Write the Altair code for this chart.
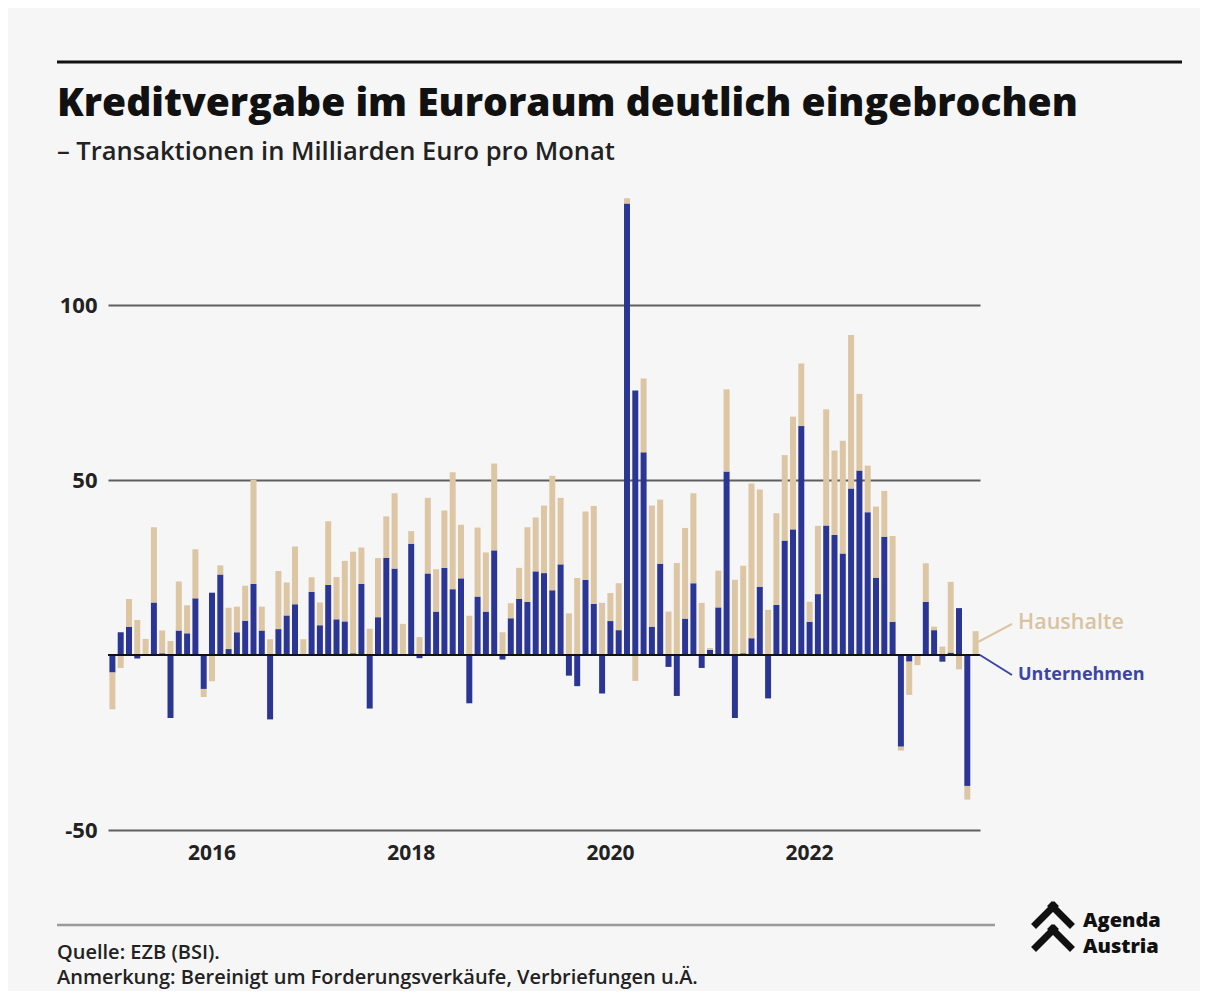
import altair as alt
import pandas as pd

# Monthly transactions, billion EUR, Jan 2015 - Sep 2023
months = [f"{y}-{m:02d}" for y in range(2015, 2024) for m in range(1, 13)][:105]

unternehmen = [
    -5, 6.5, 8, -1, 0.3, 15, 0.5, -18, 7, 6.2, 16.2, -9.7,
    17.8, 23, 1.7, 6.5, 9.8, 20.3, 7, -18.4, 7.4, 11.3, 14.5, 0.3,
    18, 8.5, 20, 10.2, 9.6, 0.5, 20.3, -15.3, 10.8, 27.8, 24.7, 0.3,
    31.8, -0.9, 23.3, 12.4, 24.9, 18.8, 21.9, -13.8, 16.7, 12.4, 29.9, -1.3,
    10.5, 16, 15.2, 23.9, 23.4, 18.5, 25.9, -5.9, -8.9, 21.5, 14.6, -11,
    9.7, 7.1, 129, 75.6, 57.9, 8.1, 26.1, -3.4, -11.7, 10.4, 20.5, -3.7,
    1.5, 13.6, 52.4, -18, 0.5, 4.8, 19.5, -12.4, 14.3, 32.7, 35.9, 65.4,
    9.5, 17.4, 37, 34.3, 29, 47.6, 52.7, 40.8, 22.1, 33.8, 9.5, -26.2,
    -1.9, 0, 15.2, 7.1, -1.9, 0.7, 13.4, -37.4, 0,
]
haushalte = [
    -10.5, -3.7, 8, 10, 4.3, 21.5, 6.5, 4, 14, 8, 14, -2.3,
    -7.5, 2.6, 11.8, 7.3, 10, 29.7, 6.8, 4.5, 16.6, 9.4, 16.5, 4.2,
    4.2, 6.5, 18.2, 12.1, 17.3, 29, 10.4, 7.5, 16.9, 11.8, 21.5, 8.6,
    3.6, 5.1, 21.6, 12.1, 16.4, 33.4, 15.3, 11.2, 19.7, 16.9, 24.8, 6.5,
    4.3, 8.9, 21.3, 15.4, 19.3, 32.7, 19, 11.9, 22, 19.5, 28, 14.9,
    8, 13.4, 1.5, -7.4, 21.1, 34.6, 18.3, 12.4, 26.3, 25.9, 25.7, 14.9,
    0.5, 10.5, 23.5, 21.5, 25, 44.2, 27.8, 12.9, 26.2, 24.4, 32.2, 17.9,
    5.7, 19.5, 33.2, 24.1, 32.2, 43.8, 21.9, 13.3, 20.3, 13.1, 24.5, -1.1,
    -9.5, -2.9, 11, 1, 2.4, 20.2, -4.1, -3.9, 6.8,
]

series_names = ["Unternehmen", "Haushalte"]
series_colors = ["#2b3694", "#dcc6a3"]
year_ticks = ["2016-01", "2018-01", "2020-01", "2022-01"]
y_ticks = [-50, 50, 100]

rows = []
for i, m in enumerate(months):
    rows.append({"month": m, "series": "Unternehmen", "ord": 0, "value": unternehmen[i]})
    rows.append({"month": m, "series": "Haushalte", "ord": 1, "value": haushalte[i]})
df = pd.DataFrame(rows)

FONT = "Open Sans"
W, H = 872, 637

bars = alt.Chart(df).mark_bar().encode(
    x=alt.X(
        "month:O",
        scale=alt.Scale(paddingInner=0.28, paddingOuter=0.17),
        axis=alt.Axis(
            values=year_ticks,
            labelExpr="substring(datum.value, 0, 4)",
            labelAngle=0,
            ticks=False,
            domain=False,
            labelPadding=12,
            labelFont=FONT,
            labelFontSize=21,
            labelFontWeight="bold",
            labelColor="#222222",
            title=None,
        ),
    ),
    y=alt.Y(
        "value:Q",
        scale=alt.Scale(domain=[-50, 132], nice=False, zero=False),
        axis=alt.Axis(
            values=y_ticks,
            ticks=False,
            domain=False,
            grid=True,
            gridColor="#5e5e5e",
            gridWidth=2,
            labelPadding=11,
            labelFont=FONT,
            labelFontSize=22,
            labelFontWeight="bold",
            labelColor="#222222",
            labelExpr="datum.value < 0 ? '-' + abs(datum.value) : datum.label",
            title=None,
        ),
    ),
    color=alt.Color("series:N", scale=alt.Scale(domain=series_names, range=series_colors), legend=None),
    order=alt.Order("ord:Q"),
)

zero = alt.Chart(pd.DataFrame({"v": [0]})).mark_rule(color="#111111", strokeWidth=2).encode(y=alt.Y("v:Q"))


def txt(s, x, y, size, weight="normal", color="#111111", baseline="alphabetic", align="left", font=FONT):
    return alt.Chart(pd.DataFrame({"t": [s]})).mark_text(
        font=font, fontSize=size, fontWeight=weight, color=color,
        baseline=baseline, align=align,
    ).encode(text="t:N", x=alt.value(x), y=alt.value(y))


def line(x1, y1, x2, y2, color, width, cap="butt"):
    return alt.Chart(pd.DataFrame({"a": [0]})).mark_rule(color=color, strokeWidth=width, strokeCap=cap).encode(
        x=alt.value(x1), y=alt.value(y1), x2=alt.value(x2), y2=alt.value(y2)
    )


decor = [
    line(-51, -131, 1074, -131, "#111111", 3),
    txt("Kreditvergabe im Euroraum deutlich eingebrochen", -51, -77, 39, 800),
    txt("– Transaktionen in Milliarden Euro pro Monat", -51, -33, 25.5, 600, "#222222"),
    line(870, 449, 904, 431, "#dcc6a3", 2),
    line(872, 462, 904, 482, "#3b45a5", 2),
    txt("Haushalte", 910, 430, 21.5, 600, "#d9c3a0", "middle"),
    txt("Unternehmen", 910, 482, 18, 700, "#3b45a5", "middle"),
    line(-51, 732, 887, 732, "#999999", 2.5),
    txt("Quelle: EZB (BSI).", -51, 766, 20, 600, "#222222"),
    txt("Anmerkung: Bereinigt um Forderungsverkäufe, Verbriefungen u.Ä.", -51, 791, 20, 600, "#222222"),
    # logo chevrons
    line(928, 731, 946, 713, "#111111", 7, "square"),
    line(944, 713, 962, 731, "#111111", 7, "square"),
    line(928, 754, 946, 736, "#111111", 7, "square"),
    line(944, 736, 962, 754, "#111111", 7, "square"),
    txt("Agenda", 975, 734, 20, 800),
    txt("Austria", 975, 760, 20, 800),
]

chart = alt.layer(bars, zero, *decor).properties(
    width=W,
    height=H,
    background="#f6f6f6",
    autosize=alt.AutoSizeParams(type="none"),
    padding={"left": 100, "top": 185, "right": 220, "bottom": 161},
).configure_view(strokeWidth=0)

chart.save("out.html", embed_options={"renderer": "svg", "actions": False})
